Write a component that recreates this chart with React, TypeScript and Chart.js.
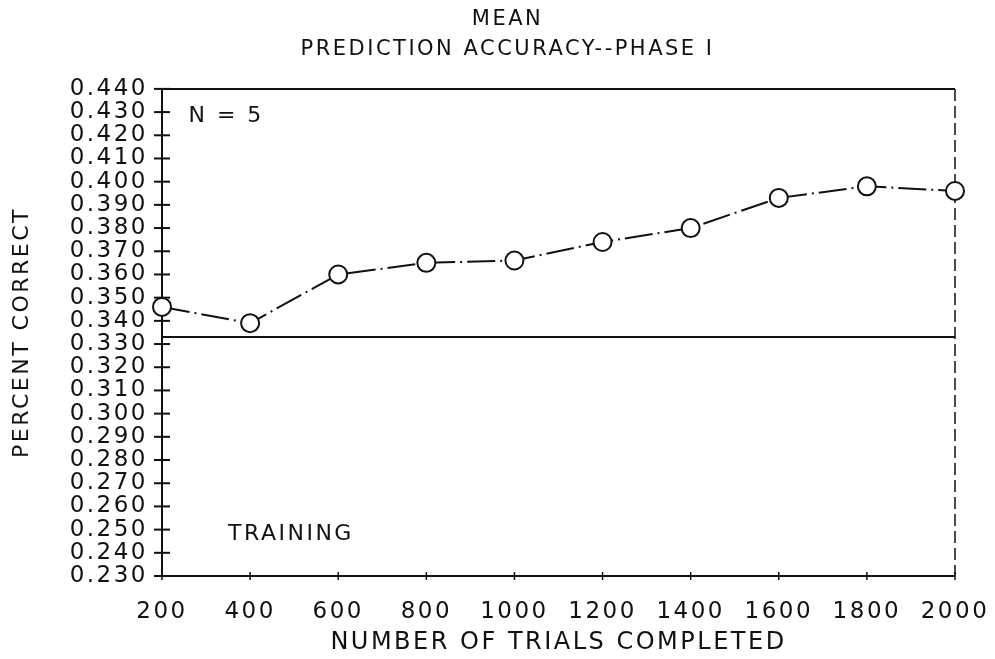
import React, { useEffect, useRef } from 'react';
import { Chart, registerables } from 'chart.js';

Chart.register(...registerables);

// ---- data ----
const trials = [200, 400, 600, 800, 1000, 1200, 1400, 1600, 1800, 2000];
const meanAccuracy = [0.346, 0.339, 0.360, 0.365, 0.366, 0.374, 0.380, 0.393, 0.398, 0.396];
const chanceLevel = 0.333;
const yMin = 0.23;
const yMax = 0.44;
const yStep = 0.01;
const xMin = 200;
const xMax = 2000;
const xStep = 200;
const titleLines = ['MEAN', 'PREDICTION ACCURACY--PHASE I'];
const yAxisTitle = 'PERCENT CORRECT';
const xAxisTitle = 'NUMBER OF TRIALS COMPLETED';
const noteTexts = ['N = 5', 'TRAINING'];
const noteX = [260, 350];
const noteY = [0.428, 0.248];

const FONT = '"DejaVu Sans", sans-serif';
const INK = '#111';

const framePlugin = {
  id: 'frame',
  beforeDraw(chart: any) {
    chart.ctx.letterSpacing = '2.5px';
  },
  beforeDatasetsDraw(chart: any) {
    const { ctx, chartArea } = chart;
    const { left, right, top, bottom } = chartArea;
    const xs = chart.scales.x;
    const ys = chart.scales.y;
    ctx.save();
    ctx.strokeStyle = INK;
    ctx.lineCap = 'butt';
    ctx.lineWidth = 2;
    // left axis
    ctx.beginPath();
    ctx.moveTo(left, top);
    ctx.lineTo(left, bottom);
    ctx.stroke();
    // top border
    ctx.beginPath();
    ctx.moveTo(left, top);
    ctx.lineTo(right, top);
    ctx.stroke();
    // bottom axis
    ctx.beginPath();
    ctx.moveTo(left, bottom);
    ctx.lineTo(right, bottom);
    ctx.stroke();
    // y ticks crossing the axis
    ys.ticks.forEach((t: any) => {
      const py = ys.getPixelForValue(t.value);
      ctx.beginPath();
      ctx.moveTo(left - 8, py);
      ctx.lineTo(left + 8, py);
      ctx.stroke();
    });
    // x ticks crossing the axis
    ctx.lineWidth = 1.5;
    xs.ticks.forEach((t: any) => {
      const px = xs.getPixelForValue(t.value);
      ctx.beginPath();
      ctx.moveTo(px, bottom - 4);
      ctx.lineTo(px, bottom + 4);
      ctx.stroke();
    });
    // right dashed border
    ctx.setLineDash([12, 5]);
    ctx.beginPath();
    ctx.moveTo(right, top);
    ctx.lineTo(right, bottom);
    ctx.stroke();
    ctx.setLineDash([]);
    // notes
    ctx.fillStyle = INK;
    ctx.font = `22px ${FONT}`;
    ctx.textAlign = 'left';
    ctx.textBaseline = 'middle';
    noteTexts.forEach((txt, i) => {
      ctx.fillText(txt, xs.getPixelForValue(noteX[i]), ys.getPixelForValue(noteY[i]));
    });
    ctx.restore();
  },
};

export default function App() {
  const ref = useRef<HTMLCanvasElement | null>(null);
  useEffect(() => {
    if (!ref.current) return;
    const chart = new Chart(ref.current, {
      type: 'line',
      data: {
        datasets: [
          {
            label: 'Chance',
            data: [
              { x: xMin, y: chanceLevel },
              { x: xMax, y: chanceLevel },
            ],
            borderColor: INK,
            borderWidth: 2,
            pointRadius: 0,
            fill: false,
          },
          {
            label: 'Mean prediction accuracy',
            data: trials.map((t, i) => ({ x: t, y: meanAccuracy[i] })),
            borderColor: INK,
            borderWidth: 2,
            borderDash: [28, 5, 2, 5],
            pointRadius: 9,
            pointBorderWidth: 2,
            pointBackgroundColor: '#fff',
            pointBorderColor: INK,
            fill: false,
            clip: false as any,
          },
        ],
      },
      options: {
        responsive: false,
        animation: false,
        layout: { padding: { left: 60, right: 40, top: 0, bottom: 0 } },
        plugins: {
          legend: { display: false },
          tooltip: { enabled: false },
          title: {
            display: true,
            text: titleLines,
            color: INK,
            font: { family: FONT, size: 21, weight: 'normal', lineHeight: 1.45 },
            padding: { top: 4, bottom: 24 },
          },
        },
        scales: {
          x: {
            type: 'linear',
            min: xMin,
            max: xMax,
            grid: { display: false, drawTicks: false },
            border: { display: false },
            ticks: {
              stepSize: xStep,
              autoSkip: false,
              maxRotation: 0,
              color: INK,
              padding: 22,
              font: { family: FONT, size: 23 },
              callback: (v: any) => String(v),
            },
            title: {
              display: true,
              text: xAxisTitle,
              color: INK,
              font: { family: FONT, size: 24 },
              padding: { top: 0, bottom: 2 },
            },
            afterFit: (s: any) => {
              s.height = 83;
              s.paddingLeft = 0;
              s.paddingRight = 0;
            },
          },
          y: {
            type: 'linear',
            min: yMin,
            max: yMax,
            grid: { display: false, drawTicks: false },
            border: { display: false },
            ticks: {
              stepSize: yStep,
              autoSkip: false,
              color: INK,
              padding: 14,
              font: { family: FONT, size: 23 },
              callback: (v: any) => Number(v).toFixed(3),
            },
            title: {
              display: true,
              text: yAxisTitle,
              color: INK,
              font: { family: FONT, size: 22 },
              padding: { top: -51, bottom: 0 },
            },
            afterFit: (s: any) => {
              s.width = 102;
            },
          },
        },
      },
      plugins: [framePlugin],
    });
    return () => chart.destroy();
  }, []);
  return (
    <div style={{ position: 'absolute', left: 0, top: 0, width: 995, height: 659, background: '#fff' }}>
      <canvas ref={ref} width={995} height={659} style={{ display: 'block' }} />
    </div>
  );
}
